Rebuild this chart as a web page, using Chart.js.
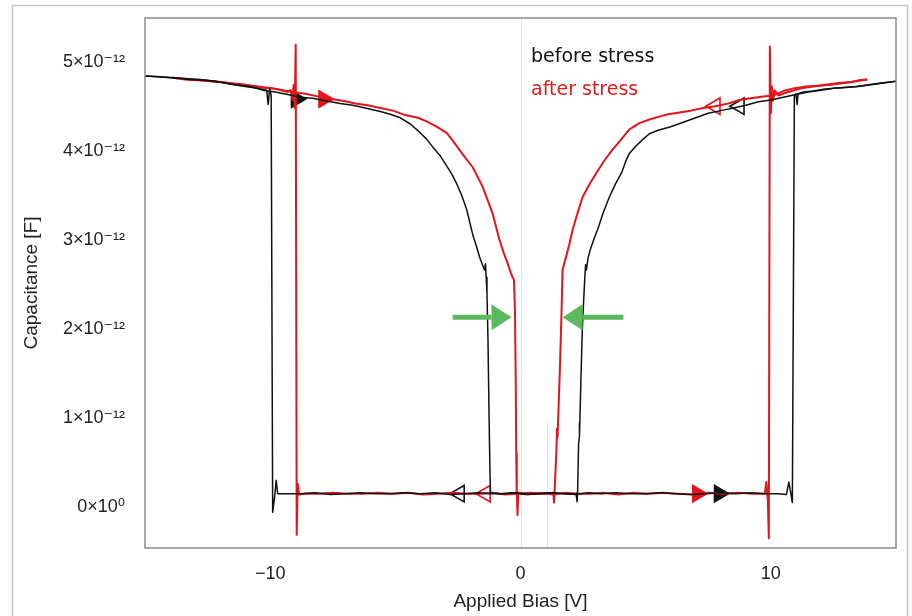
<!DOCTYPE html>
<html><head><meta charset="utf-8">
<script src="https://cdn.jsdelivr.net/npm/chart.js@4/dist/chart.umd.min.js"></script>
<style>html,body{margin:0;padding:0;background:#fff}canvas{display:block}</style>
</head><body>
<canvas id="c" width="912" height="616"></canvas>
<script>
const PF = 1e-12; // capacitance arrays below are in pF
const xTicks = [-10, 0, 10];
const yTicks = [0, 1, 2, 3, 4, 5];
const seriesNames = ['before stress', 'after stress'];

// before stress, forward sweep (filled arrows)
const beforeFwdV = [-15.0,-14.4,-13.8,-13.2,-12.6,-12.0,-11.4,-10.8,-10.3,-9.8,-9.3,-8.8,-8.3,-7.8,-7.2,-6.7,-6.2,-5.6,-5.2,-4.8,-4.4,-4.0,-3.75,-3.5,-3.2,-2.95,-2.75,-2.55,-2.35,-2.15,-1.9,-1.75,-1.64,-1.52,-1.44,-1.40,-1.37,-1.34,-1.30,-1.26,-1.22,-1.20,-0.8,-0.3,0.2,0.7,1.2,1.7,2.2,2.7,3.2,3.8,4.4,5.0,5.6,6.2,6.8,7.4,8.0,8.6,9.2,9.8,10.3,10.62,10.72,10.80,10.86,10.94,11.0,11.05,11.09,11.3,11.7,12.1,12.5,12.9,13.4,13.9,14.4,15.0];
const beforeFwdC = [4.84,4.83,4.82,4.80,4.79,4.77,4.74,4.72,4.68,4.66,4.63,4.60,4.59,4.56,4.53,4.51,4.48,4.44,4.41,4.37,4.30,4.20,4.13,4.04,3.94,3.83,3.74,3.63,3.50,3.34,3.05,2.92,2.81,2.72,2.66,2.73,2.58,2.40,1.90,1.10,0.40,0.16,0.15,0.16,0.14,0.15,0.16,0.15,0.14,0.16,0.15,0.16,0.15,0.15,0.16,0.15,0.14,0.15,0.16,0.15,0.16,0.15,0.15,0.14,0.28,0.15,0.05,4.62,4.64,4.52,4.64,4.66,4.67,4.69,4.70,4.71,4.72,4.74,4.76,4.78];

// before stress, reverse sweep (open arrows)
const beforeRevV = [15.0,14.5,14.0,13.5,13.0,12.5,12.0,11.5,11.0,10.5,10.0,9.5,9.0,8.5,8.0,7.5,7.0,6.5,6.0,5.5,5.15,4.9,4.6,4.35,4.2,4.05,3.8,3.55,3.3,3.1,2.95,2.8,2.7,2.63,2.60,2.57,2.52,2.47,2.42,2.37,2.35,2.36,2.32,2.28,2.26,2.22,1.8,1.3,0.8,0.3,-0.2,-0.7,-1.2,-1.7,-2.2,-2.8,-3.4,-4.0,-4.6,-5.2,-5.8,-6.4,-7.0,-7.6,-8.2,-8.8,-9.4,-9.7,-9.76,-9.82,-9.90,-9.96,-10.02,-10.08,-10.14,-10.5,-11.0,-11.6,-12.2,-12.8,-13.4,-14.0,-14.5,-15.0];
const beforeRevC = [4.78,4.76,4.74,4.72,4.71,4.70,4.68,4.66,4.63,4.60,4.57,4.55,4.51,4.48,4.45,4.42,4.37,4.32,4.27,4.23,4.19,4.13,4.05,3.97,3.88,3.76,3.63,3.48,3.30,3.13,3.02,2.90,2.80,2.66,2.72,2.58,2.30,1.99,1.50,0.95,0.88,0.80,0.70,0.16,0.06,0.15,0.15,0.16,0.15,0.14,0.16,0.15,0.15,0.16,0.15,0.14,0.16,0.15,0.16,0.15,0.15,0.16,0.15,0.14,0.16,0.15,0.15,0.15,0.30,0.12,-0.06,4.62,4.70,4.52,4.68,4.70,4.72,4.75,4.78,4.80,4.81,4.82,4.83,4.84];

// after stress, forward sweep (filled arrows)
const afterFwdV = [-13.89,-13.4,-12.9,-12.4,-11.9,-11.4,-10.9,-10.4,-9.9,-9.5,-9.1,-8.6,-8.1,-7.6,-7.1,-6.6,-6.1,-5.6,-5.1,-4.6,-4.1,-3.75,-3.35,-2.95,-2.7,-2.44,-2.2,-1.92,-1.72,-1.52,-1.32,-1.12,-0.98,-0.84,-0.68,-0.52,-0.40,-0.32,-0.26,-0.22,-0.19,-0.17,-0.16,-0.14,-0.12,-0.09,0.3,0.8,1.3,1.8,2.3,2.8,3.3,3.9,4.5,5.1,5.7,6.3,6.9,7.5,8.1,8.7,9.3,9.76,9.82,9.88,9.92,9.96,10.0,10.04,10.09,10.15,10.3,10.7,11.2,11.7,12.2,12.7,13.2,13.5,13.85];
const afterFwdC = [4.82,4.80,4.79,4.78,4.77,4.75,4.73,4.71,4.70,4.68,4.66,4.64,4.61,4.58,4.56,4.53,4.51,4.48,4.45,4.40,4.37,4.33,4.27,4.20,4.11,4.01,3.92,3.82,3.71,3.60,3.45,3.30,3.15,3.00,2.86,2.74,2.64,2.58,2.55,2.20,1.40,0.60,0.16,0.22,-0.09,0.16,0.15,0.16,0.14,0.16,0.15,0.15,0.16,0.14,0.16,0.15,0.16,0.15,0.14,0.16,0.15,0.16,0.15,0.15,0.28,0.08,-0.35,5.17,4.42,4.72,4.56,4.68,4.62,4.66,4.70,4.72,4.74,4.76,4.77,4.79,4.80];

// after stress, reverse sweep (open arrows)
const afterRevV = [13.85,13.4,12.9,12.4,11.9,11.4,10.9,10.5,10.1,9.7,9.2,8.74,8.3,7.78,7.3,6.8,6.35,5.9,5.5,5.15,4.75,4.35,4.0,3.67,3.35,3.03,2.75,2.48,2.28,2.08,1.95,1.84,1.75,1.68,1.64,1.58,1.50,1.48,1.46,1.43,1.36,1.34,1.31,0.9,0.4,-0.1,-0.6,-1.1,-1.6,-2.1,-2.7,-3.3,-3.9,-4.5,-5.1,-5.7,-6.3,-6.9,-7.5,-8.1,-8.6,-8.84,-8.90,-8.94,-8.98,-9.02,-9.06,-9.11,-9.17,-9.3,-9.7,-10.2,-10.7,-11.2,-11.7,-12.2,-12.7,-13.2,-13.89];
const afterRevC = [4.80,4.78,4.76,4.74,4.73,4.72,4.70,4.67,4.62,4.61,4.59,4.57,4.53,4.50,4.48,4.45,4.43,4.41,4.38,4.35,4.31,4.24,4.12,4.01,3.89,3.75,3.62,3.48,3.30,3.11,2.95,2.83,2.74,2.66,2.20,1.60,0.95,0.78,0.88,0.60,0.16,0.05,0.16,0.15,0.16,0.15,0.14,0.16,0.15,0.15,0.16,0.15,0.14,0.16,0.15,0.16,0.15,0.15,0.16,0.15,0.15,0.14,0.26,-0.31,5.19,4.48,4.74,4.57,4.68,4.66,4.69,4.71,4.73,4.75,4.76,4.78,4.79,4.80,4.82];

// sweep-direction markers
const beforeFilledV = [-8.96, 7.94];  const beforeFilledC = [4.58, 0.15];
const beforeOpenV   = [8.74, -2.44];  const beforeOpenC   = [4.50, 0.15];
const afterFilledV  = [-7.86, 7.07];  const afterFilledC  = [4.58, 0.15];
const afterOpenV    = [7.78, -1.40];  const afterOpenC    = [4.50, 0.15];

// green shift arrows: tail voltage, tip voltage, capacitance (pF)
const shiftTailV = [-2.71, 4.11];
const shiftTipV  = [-0.36, 1.68];
const shiftC     = [2.13, 2.13];

// faint vertical guide lines
const guideV = [0, 1.05];
const guideFromC = [-0.46, -0.46];
const guideToC = [5.49, 0.95];

const Y_MIN = -0.46, Y_MAX = 5.49;

const pts = (v, c) => v.map((x, i) => ({x: x, y: c[i] * PF}));
const FONT = '"Liberation Sans", Arial, "DejaVu Sans", sans-serif';
const BLACK = '#111111', RED = '#e3141b';

function lineDs(label, v, c, color, w) {
  return {label, data: pts(v, c), showLine: true, borderColor: color, borderWidth: w,
    pointRadius: 0, tension: 0, borderJoinStyle: 'round', fill: false};
}
function markerDs(label, v, c, color, filled, rot) {
  return {label, data: pts(v, c), showLine: false, pointStyle: 'triangle', rotation: rot,
    pointRadius: 9.5, pointBorderWidth: 1.6, pointBorderColor: color,
    pointBackgroundColor: filled ? color : 'rgba(0,0,0,0)'};
}

const decor = {
  id: 'decor',
  beforeDraw(chart) {
    const {ctx, width, height} = chart;
    ctx.save();
    ctx.fillStyle = '#fff'; ctx.fillRect(0, 0, width, height);
    ctx.strokeStyle = '#c6c6c6'; ctx.lineWidth = 1.5;
    ctx.strokeRect(12.5, 5.5, 895, height + 20);
    ctx.restore();
  },
  beforeDatasetsDraw(chart) {
    const {ctx, scales: {x, y}} = chart;
    ctx.save();
    ctx.strokeStyle = '#e4e4e4'; ctx.lineWidth = 1;
    guideV.forEach((g, i) => {
      const px = Math.round(x.getPixelForValue(g)) + 0.5;
      ctx.beginPath();
      ctx.moveTo(px, y.getPixelForValue(guideFromC[i] * PF));
      ctx.lineTo(px, y.getPixelForValue(guideToC[i] * PF));
      ctx.stroke();
    });
    ctx.restore();
  },
  afterDatasetsDraw(chart) {
    const {ctx, chartArea: a, scales: {x, y}} = chart;
    ctx.save();
    // green arrows
    ctx.fillStyle = '#5cb85c'; ctx.strokeStyle = '#5cb85c';
    shiftTailV.forEach((t, i) => {
      const x0 = x.getPixelForValue(t), x1 = x.getPixelForValue(shiftTipV[i]);
      const py = y.getPixelForValue(shiftC[i] * PF);
      const dir = Math.sign(x1 - x0), head = 20, half = 13;
      ctx.lineWidth = 5; ctx.lineCap = 'butt';
      ctx.beginPath(); ctx.moveTo(x0, py); ctx.lineTo(x1 - dir * head, py); ctx.stroke();
      ctx.beginPath();
      ctx.moveTo(x1, py); ctx.lineTo(x1 - dir * head, py - half); ctx.lineTo(x1 - dir * head, py + half);
      ctx.closePath(); ctx.fill();
    });
    // plot frame
    ctx.strokeStyle = '#8c8c8c'; ctx.lineWidth = 1.5;
    ctx.strokeRect(a.left, a.top, a.right - a.left, a.bottom - a.top);
    // series labels
    ctx.font = '19px "DejaVu Sans", sans-serif';
    ctx.textBaseline = 'alphabetic'; ctx.textAlign = 'left';
    ctx.fillStyle = '#111'; ctx.fillText(seriesNames[0], a.left + 386, a.top + 44);
    ctx.fillStyle = '#dc1c1c'; ctx.fillText(seriesNames[1], a.left + 386, a.top + 77);
    ctx.restore();
  }
};

new Chart(document.getElementById('c'), {
  type: 'scatter',
  data: {datasets: [
    lineDs(seriesNames[0] + ' forward', beforeFwdV, beforeFwdC, BLACK, 1.5),
    lineDs(seriesNames[0] + ' reverse', beforeRevV, beforeRevC, BLACK, 1.5),
    lineDs(seriesNames[1] + ' forward', afterFwdV, afterFwdC, RED, 2),
    lineDs(seriesNames[1] + ' reverse', afterRevV, afterRevC, RED, 2),
    markerDs('before fwd dir', beforeFilledV, beforeFilledC, BLACK, true, 90),
    markerDs('before rev dir', beforeOpenV, beforeOpenC, BLACK, false, -90),
    markerDs('after fwd dir', afterFilledV, afterFilledC, RED, true, 90),
    markerDs('after rev dir', afterOpenV, afterOpenC, RED, false, -90)
  ]},
  options: {
    responsive: false, animation: false, devicePixelRatio: 1,
    layout: {padding: {top: 18, right: 16, left: 0, bottom: 0}},
    plugins: {legend: {display: false}, tooltip: {enabled: false}},
    scales: {
      x: {
        type: 'linear', min: -15, max: 15,
        afterBuildTicks: s => { s.ticks = xTicks.map(v => ({value: v})); },
        afterFit: s => { s.height = 68; s.paddingLeft = 0; s.paddingRight = 0; },
        grid: {display: false, drawTicks: false}, border: {display: false},
        ticks: {padding: 15, color: '#222', font: {family: FONT, size: 18}, maxRotation: 0, autoSkip: false,
          callback: v => v < 0 ? '\u2212' + Math.abs(v) : String(v)},
        title: {display: true, text: 'Applied Bias [V]', color: '#222', font: {family: FONT, size: 19},
          padding: {top: 0, bottom: 3}}
      },
      y: {
        type: 'linear', min: Y_MIN * PF, max: Y_MAX * PF,
        afterBuildTicks: s => { s.ticks = yTicks.map(v => ({value: v * PF})); },
        afterFit: s => { s.width = 145; s.paddingTop = 0; s.paddingBottom = 0; },
        grid: {display: false, drawTicks: false}, border: {display: false},
        ticks: {padding: 20, color: '#222', font: {family: FONT, size: 18}, autoSkip: false,
          callback: v => { const n = Math.round(v / PF); return n === 0 ? '0\u00d710\u2070' : n + '\u00d710\u207b\u00b9\u00b2'; }},
        title: {display: true, text: 'Capacitance [F]', color: '#222', font: {family: FONT, size: 19},
          padding: {top: 20, bottom: 0}}
      }
    }
  },
  plugins: [decor]
});
</script>
</body></html>
